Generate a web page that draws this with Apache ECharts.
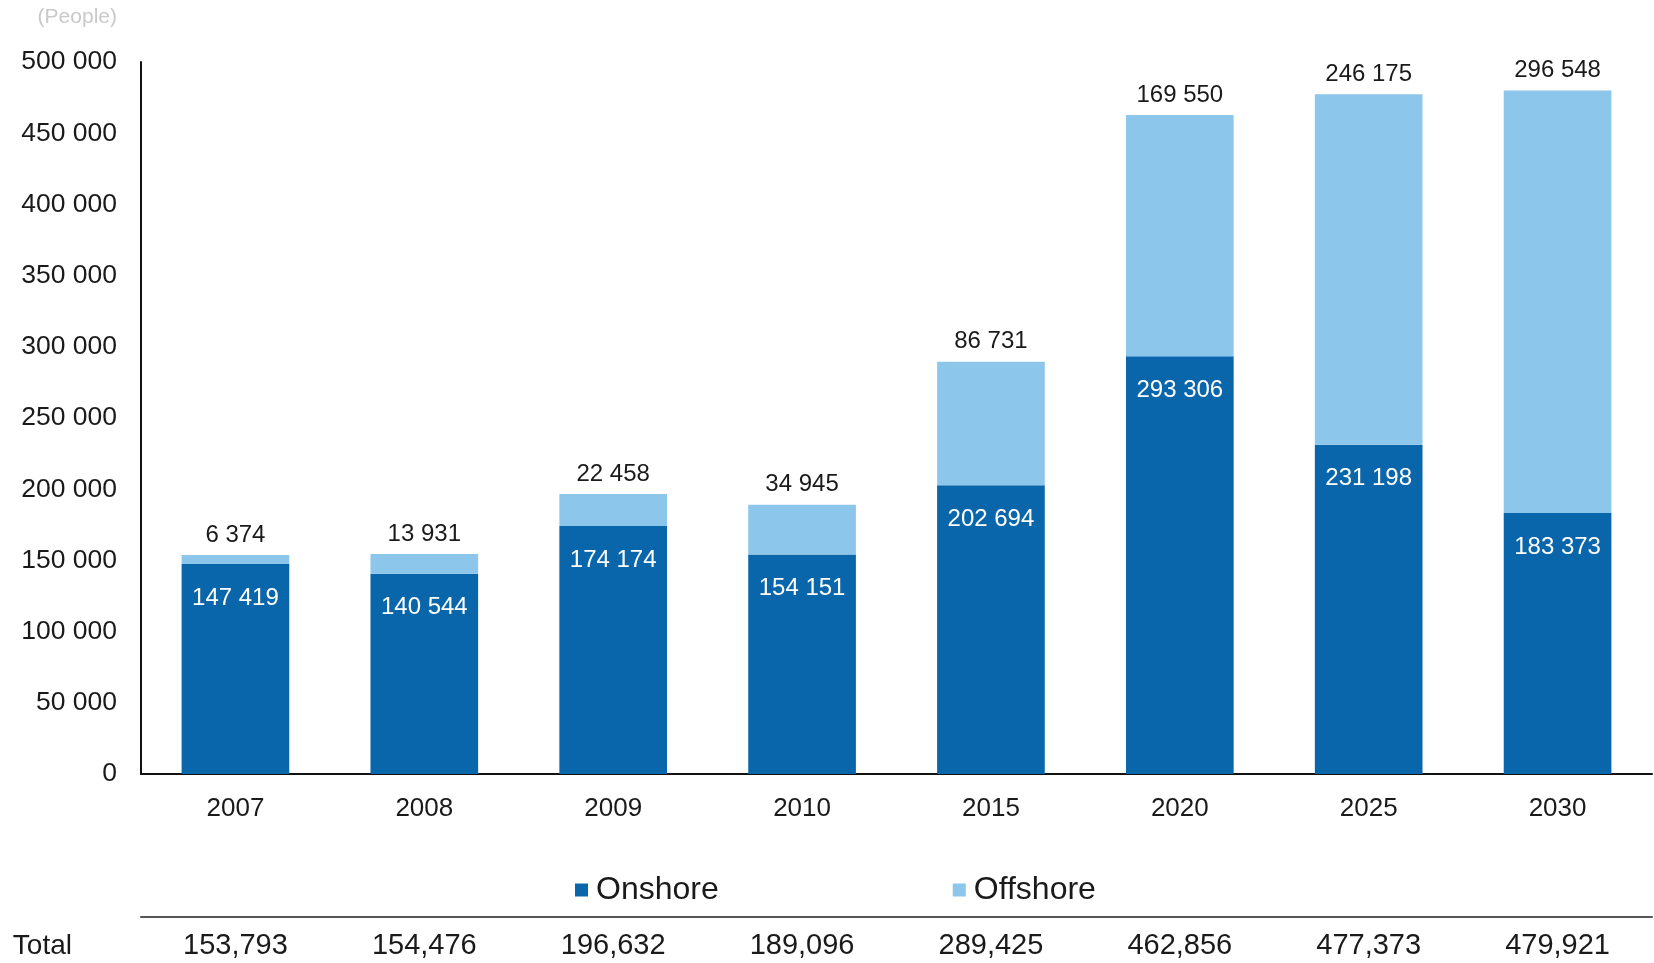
<!DOCTYPE html>
<html>
<head>
<meta charset="utf-8">
<script src="https://cdn.jsdelivr.net/npm/echarts@6/dist/echarts.min.js"></script>
<style>
  html, body { margin: 0; padding: 0; background: #ffffff; }
  #chart { width: 1654px; height: 963px; }
</style>
</head>
<body>
<div id="chart"></div>
<script>
// Wind energy employment, onshore vs offshore, with yearly totals
const years = ['2007', '2008', '2009', '2010', '2015', '2020', '2025', '2030'];
const onshore = [147419, 140544, 174174, 154151, 202694, 293306, 231198, 183373];
const offshore = [6374, 13931, 22458, 34945, 86731, 169550, 246175, 296548];
const totals = [153793, 154476, 196632, 189096, 289425, 462856, 477373, 479921];
const yTicks = { min: 0, max: 500000, interval: 50000 };

const spaced = v => String(v).replace(/\B(?=(\d{3})+(?!\d))/g, ' ');
const commas = v => String(v).replace(/\B(?=(\d{3})+(?!\d))/g, ',');

const baseFont = 'Liberation Sans, Arial, sans-serif';

const chart = echarts.init(document.getElementById('chart'), null, { renderer: 'canvas' });

chart.setOption({
  animation: false,
  backgroundColor: '#ffffff',
  grid: { left: 141, right: 2, top: 62, bottom: 189, containLabel: false },
  legend: {
    left: 570,
    top: 869,
    itemWidth: 13,
    itemHeight: 13,
    itemGap: 234,
    icon: 'rect',
    textStyle: { fontFamily: baseFont, fontSize: 32, color: '#1a1a1a', padding: [0, 0, 0, 3] },
    data: ['Onshore', 'Offshore']
  },
  xAxis: [
    {
      type: 'category',
      data: years,
      axisLine: { lineStyle: { color: '#111111', width: 2 } },
      axisTick: { show: false },
      axisLabel: { fontFamily: baseFont, fontSize: 26, color: '#1a1a1a', margin: 22 }
    },
    {
      type: 'category',
      data: years,
      position: 'bottom',
      offset: 143,
      gridIndex: 0,
      name: 'Total',
      nameLocation: 'start',
      nameGap: 69,
      nameTextStyle: { fontFamily: baseFont, fontSize: 28, color: '#1a1a1a', verticalAlign: 'top', padding: [15, 0, 0, 0] },
      axisLine: { lineStyle: { color: '#555555', width: 2 } },
      axisTick: { show: false },
      axisLabel: {
        fontFamily: baseFont, fontSize: 29, color: '#1a1a1a', margin: 14,
        formatter: (v, i) => commas(totals[i])
      }
    }
  ],
  yAxis: {
    type: 'value',
    min: yTicks.min,
    max: yTicks.max,
    interval: yTicks.interval,
    name: '(People)',
    nameLocation: 'end',
    nameGap: 34,
    nameTextStyle: { fontFamily: baseFont, fontSize: 21, color: '#c9c9c9', align: 'right', padding: [0, 24, 0, 0] },
    axisLine: { show: true, lineStyle: { color: '#111111', width: 2 } },
    axisTick: { show: false },
    splitLine: { show: false },
    axisLabel: { fontFamily: baseFont, fontSize: 26.5, color: '#1a1a1a', margin: 24, formatter: v => spaced(v) }
  },
  series: [
    {
      name: 'Onshore',
      type: 'bar',
      stack: 'jobs',
      barWidth: '57%',
      data: onshore,
      itemStyle: { color: '#0a66aa' },
      label: {
        show: true,
        position: 'insideTop',
        distance: 22,
        fontFamily: baseFont,
        fontSize: 24,
        color: '#ffffff',
        formatter: p => spaced(p.value)
      }
    },
    {
      name: 'Offshore',
      type: 'bar',
      stack: 'jobs',
      barWidth: '57%',
      data: offshore,
      itemStyle: { color: '#8cc6ea' },
      label: {
        show: true,
        position: 'top',
        distance: 8,
        fontFamily: baseFont,
        fontSize: 24,
        color: '#1a1a1a',
        formatter: p => spaced(p.value)
      }
    }
  ]
});
</script>
</body>
</html>
